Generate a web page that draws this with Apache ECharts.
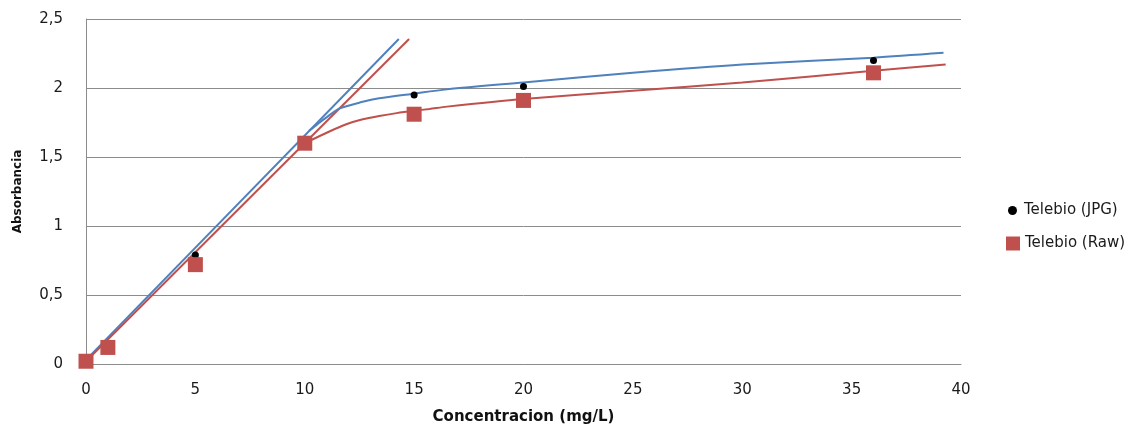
<!DOCTYPE html>
<html>
<head>
<meta charset="utf-8">
<script src="https://cdn.jsdelivr.net/npm/echarts@6/dist/echarts.min.js"></script>
<style>
html,body{margin:0;padding:0;background:#fff;}
#chart{width:1147px;height:425px;}
</style>
</head>
<body>
<div id="chart"></div>
<script>
// Measured points
const concX = [0, 1, 5, 10, 15, 20, 36];
const jpgY = [0.02, 0.12, 0.79, 1.62, 1.95, 2.01, 2.20];
const rawY = [0.02, 0.12, 0.72, 1.60, 1.81, 1.91, 2.11];

// Linear trend lines
const jpgLinX = [0, 14.3];
const jpgLinY = [0.03, 2.355];
const rawLinX = [0, 14.77];
const rawLinY = [0.02, 2.355];

// Saturation trend curves
const jpgCurveX = [10.2, 10.6, 11.1, 11.6, 12.65, 13.4, 14.9, 16.5, 20, 25, 30, 36, 39.2];
const jpgCurveY = [1.69, 1.74, 1.80, 1.852, 1.90, 1.925, 1.957, 1.99, 2.04, 2.11, 2.17, 2.22, 2.255];
const rawCurveX = [10, 11.1, 11.9, 12.65, 13.4, 14.2, 15, 15.7, 16.5, 20, 25, 30, 36, 39.3];
const rawCurveY = [1.60, 1.683, 1.737, 1.773, 1.797, 1.818, 1.835, 1.848, 1.865, 1.92, 1.98, 2.04, 2.125, 2.17];

const xTicks = [0, 5, 10, 15, 20, 25, 30, 35, 40];
const yTicks = [0, 0.5, 1, 1.5, 2, 2.5];

const seriesNames = ['Telebio (JPG)', 'Telebio (Raw)'];
const xTitle = 'Concentracion (mg/L)';
const yTitle = 'Absorbancia';

const zip = (a, b) => a.map((v, i) => [v, b[i]]);
const BLUE = '#4F81BD', RED = '#C0504D';
const FONT = 'DejaVu Sans';

const chart = echarts.init(document.getElementById('chart'));
chart.setOption({
  animation: false,
  backgroundColor: '#fff',
  grid: { left: 86, right: 186, top: 19, bottom: 61, containLabel: false, outerBoundsMode: 'none' },
  xAxis: {
    type: 'value', min: xTicks[0], max: xTicks[xTicks.length - 1], interval: 5,
    axisLine: { show: true, lineStyle: { color: '#8c8c8c', width: 1 } },
    axisTick: { show: false },
    splitLine: { show: false },
    axisLabel: { color: '#1a1a1a', fontFamily: FONT, fontSize: 15, margin: 19 },
    name: xTitle, nameLocation: 'middle', nameGap: 46,
    nameTextStyle: { fontFamily: FONT, fontWeight: 'bold', fontSize: 15, color: '#111' }
  },
  yAxis: {
    type: 'value', min: yTicks[0], max: yTicks[yTicks.length - 1], interval: 0.5,
    axisLine: { show: true, lineStyle: { color: '#8c8c8c', width: 1 } },
    axisTick: { show: false },
    splitLine: { show: true, lineStyle: { color: '#8c8c8c', width: 1 } },
    axisLabel: { color: '#1a1a1a', fontFamily: FONT, fontSize: 15, margin: 23,
      formatter: v => String(v).replace('.', ',') },
    name: yTitle, nameLocation: 'middle', nameGap: 62,
    nameTextStyle: { fontFamily: FONT, fontWeight: 'bold', fontSize: 12, color: '#111' }
  },
  legend: [
    { data: [{ name: seriesNames[0], icon: 'circle' }], orient: 'vertical', left: 1003, top: 198,
      itemWidth: 9, itemHeight: 9,
      textStyle: { fontFamily: FONT, fontSize: 15, color: '#1a1a1a', padding: [0, 0, 0, 2] } },
    { data: [{ name: seriesNames[1], icon: 'rect' }], orient: 'vertical', left: 1001, top: 231,
      itemWidth: 14, itemHeight: 14,
      textStyle: { fontFamily: FONT, fontSize: 15, color: '#1a1a1a' } }
  ],
  series: [
    { name: 'jpgLin', type: 'line', data: zip(jpgLinX, jpgLinY), showSymbol: false, silent: true,
      lineStyle: { color: BLUE, width: 2 }, z: 2 },
    { name: 'rawLin', type: 'line', data: zip(rawLinX, rawLinY), showSymbol: false, silent: true,
      lineStyle: { color: RED, width: 2 }, z: 2 },
    { name: 'jpgCurve', type: 'line', data: zip(jpgCurveX, jpgCurveY), showSymbol: false, smooth: 0.3, silent: true,
      lineStyle: { color: BLUE, width: 2 }, z: 2 },
    { name: 'rawCurve', type: 'line', data: zip(rawCurveX, rawCurveY), showSymbol: false, smooth: 0.3, silent: true,
      lineStyle: { color: RED, width: 2 }, z: 2 },
    { name: seriesNames[0], type: 'scatter', data: zip(concX, jpgY), symbol: 'circle', symbolSize: 7,
      itemStyle: { color: '#000', opacity: 1 }, z: 3 },
    { name: seriesNames[1], type: 'scatter', data: zip(concX, rawY), symbol: 'rect', symbolSize: 15,
      itemStyle: { color: RED, opacity: 1 }, z: 4 }
  ]
});
</script>
</body>
</html>
